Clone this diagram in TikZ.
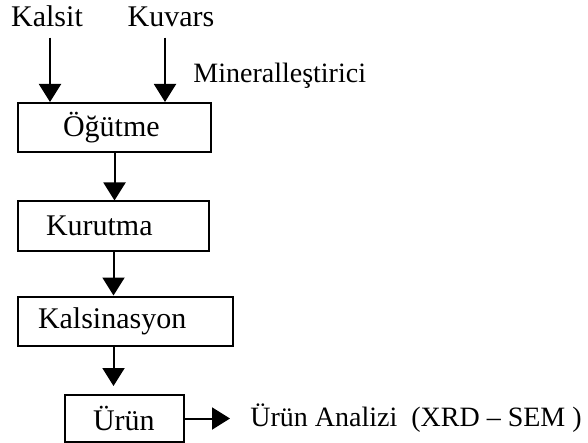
\documentclass[tikz,border=0pt]{standalone}
\usepackage{fontspec}
\setmainfont{Liberation Serif}
\usetikzlibrary{arrows.meta,positioning}

\tikzset{
  procbox/.style={draw, line width=1pt, minimum height=24.5pt, anchor=west, align=left, inner ysep=0pt},
  feed/.style={font=\fontsize{15}{18}\selectfont, inner sep=1pt, anchor=base},
  flow/.style={line width=1pt, -{Triangle[length=9pt,width=11pt]}},
}

\begin{document}
\begin{tikzpicture}[x=0.5pt, y=-0.5pt, font=\fontsize{15}{18}\selectfont]
\useasboundingbox (0,0) rectangle (588,443);
% raw materials
\node[feed] (kalsit) at (47,27) {Kalsit};
\node[feed] (kuvars) at (171,27) {Kuvars};
\node[anchor=base west, font=\fontsize{14}{16}\selectfont, inner sep=0pt] (mineral) at (193,83) {Mineralleştirici};
% process steps
\node[procbox, text width=51.5pt, inner xsep=22.5pt] (ogutme) at (17,127.5) {Öğütme};
\node[procbox, text width=67.5pt, inner xsep=14pt] (kurutma) at (17,226) {Kurutma};
\node[procbox, text width=87.5pt, inner xsep=10pt] (kalsinasyon) at (17,321) {Kalsinasyon};
\node[procbox, text width=31.5pt, inner xsep=14pt, minimum height=23.5pt] (urun) at (64,418.5) {Ürün};
\node[anchor=west, font=\fontsize{14}{16}\selectfont, inner sep=0pt] (analiz) at (250,418.5) {Ürün Analizi\ \ (XRD -- SEM\ )};
% arrows
\draw[flow, shorten <=4pt] ([xshift=1.5pt]kalsit.south) -- ([xshift=1.5pt]kalsit.south |- ogutme.north);
\draw[flow, shorten <=4pt] ([xshift=-3pt]kuvars.south) -- ([xshift=-3pt]kuvars.south |- ogutme.north);
\draw[flow] (ogutme.south) -- (ogutme.south |- kurutma.north);
\draw[flow] (kurutma.south) -- (kurutma.south |- kalsinasyon.north);
\draw[flow, shorten >=4pt] (kurutma.south |- kalsinasyon.south) -- (kurutma.south |- urun.north);
\draw[flow, shorten >=10pt] (urun.east) -- (analiz.west);
\end{tikzpicture}
\end{document}
